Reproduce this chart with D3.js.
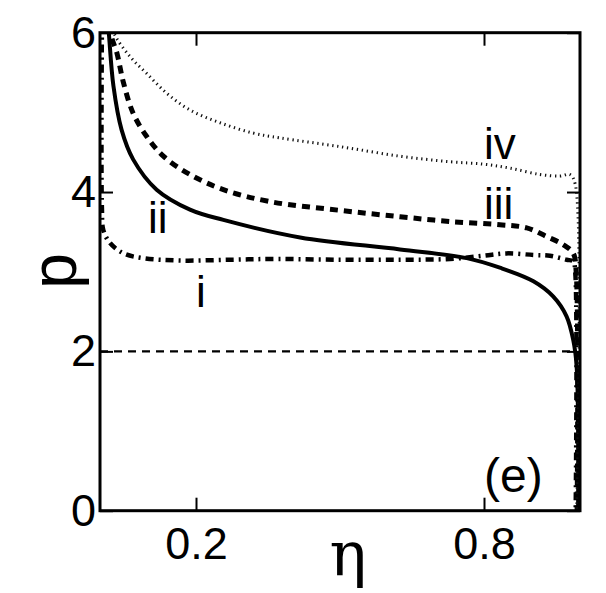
<!DOCTYPE html>
<html>
<head>
<meta charset="utf-8">
<script src="https://cdn.jsdelivr.net/npm/d3@7/dist/d3.min.js"></script>
<style>
  html, body { margin: 0; padding: 0; background: #fff; }
  text { font-family: "Liberation Sans", Arial, Helvetica, sans-serif; }
</style>
</head>
<body>
<div id="chart"></div>
<script>
// --------------- Data ---------------
const etaI = [0.004, 0.004, 0.007, 0.021, 0.049, 0.09, 0.167, 0.271, 0.368, 0.5, 0.625, 0.729, 0.799, 0.847, 0.903, 0.9375, 0.972, 0.986, 0.99, 0.991];
const pI   = [6.1, 3.8, 3.52, 3.36, 3.23, 3.17, 3.14, 3.15, 3.16, 3.15, 3.15, 3.16, 3.20, 3.23, 3.21, 3.20, 3.15, 3.13, 3.0, 0];

const etaII = [0.017, 0.019, 0.028, 0.045, 0.069, 0.118, 0.1875, 0.257, 0.417, 0.625, 0.764, 0.833, 0.903, 0.944, 0.972, 0.986, 0.993, 0.996];
const pII   = [6.1, 5.95, 5.33, 4.78, 4.41, 4.03, 3.78, 3.65, 3.43, 3.28, 3.17, 3.05, 2.88, 2.69, 2.44, 2.14, 1.81, 0];

const etaIII = [0.022, 0.024, 0.035, 0.049, 0.069, 0.097, 0.132, 0.1875, 0.257, 0.354, 0.5, 0.625, 0.729, 0.833, 0.889, 0.931, 0.965, 0.986, 0.992, 0.994];
const pIII   = [6.1, 5.95, 5.75, 5.37, 4.99, 4.70, 4.45, 4.22, 4.03, 3.88, 3.77, 3.69, 3.63, 3.59, 3.55, 3.44, 3.34, 3.23, 3.0, 0];

const etaIV = [0.025, 0.031, 0.0625, 0.097, 0.139, 0.1875, 0.25, 0.319, 0.375, 0.5, 0.625, 0.729, 0.799, 0.854, 0.917, 0.958, 0.979, 0.99, 0.993];
const pIV   = [6.1, 5.97, 5.70, 5.49, 5.24, 5.03, 4.87, 4.74, 4.68, 4.57, 4.45, 4.38, 4.35, 4.30, 4.22, 4.20, 4.22, 4.1, 0];

const REF_P = 2;
const xTicks = [0.2, 0.8];
const yTicks = [0, 2, 4, 6];

const curveLabels = ["i", "ii", "iii", "iv"];
const labelEta = [0.2, 0.1, 0.8, 0.8];
const labelP = [2.56, 3.48, 3.66, 4.41];

// --------------- Layout ---------------
const WIDTH = 606;
const HEIGHT = 593;
const LEFT = 100, RIGHT = 580, TOP = 32.7, BOTTOM = 510.7;
const TICK = 13;

const svg = d3.select("#chart").append("svg")
  .attr("width", WIDTH)
  .attr("height", HEIGHT);

const x = d3.scaleLinear().domain([0, 1]).range([LEFT, RIGHT]);
const y = d3.scaleLinear().domain([0, 6]).range([BOTTOM, TOP]);

svg.append("clipPath").attr("id", "plot-clip")
  .append("rect")
  .attr("x", LEFT).attr("y", TOP)
  .attr("width", RIGHT - LEFT).attr("height", BOTTOM - TOP);

const plot = svg.append("g").attr("clip-path", "url(#plot-clip)");

// reference line p = 2
plot.append("line")
  .attr("x1", x(0)).attr("x2", x(0.99))
  .attr("y1", y(REF_P)).attr("y2", y(REF_P))
  .attr("stroke", "#000")
  .attr("stroke-width", 2.2)
  .attr("stroke-dasharray", "8,6");

const line = d3.line()
  .x((d) => x(d[0]))
  .y((d) => y(d[1]))
  .curve(d3.curveCatmullRom.alpha(0.5));

const series = [
  { eta: etaI, p: pI, width: 4.5, dash: "8,5,2,5" },
  { eta: etaII, p: pII, width: 4, dash: null },
  { eta: etaIII, p: pIII, width: 5, dash: "8,6" },
  { eta: etaIV, p: pIV, width: 3, dash: "1.3,3.7", color: "#111" },
];

series.forEach((s) => {
  plot.append("path")
    .datum(s.eta.map((e, i) => [e, s.p[i]]))
    .attr("d", line)
    .attr("fill", "none")
    .attr("stroke", s.color || "#000")
    .attr("stroke-width", s.width)
    .attr("stroke-dasharray", s.dash);
});

// --------------- Axes ---------------
const axisFont = 45;

const gx = svg.append("g")
  .attr("transform", `translate(0,${BOTTOM})`)
  .call(d3.axisBottom(x).tickValues(xTicks).tickSize(-TICK).tickPadding(16).tickFormat(d3.format(".1f")));

const gy = svg.append("g")
  .attr("transform", `translate(${LEFT},0)`)
  .call(d3.axisLeft(y).tickValues(yTicks).tickSize(-TICK).tickPadding(4).tickFormat(d3.format("d")));

const gxTop = svg.append("g")
  .attr("transform", `translate(0,${TOP})`)
  .call(d3.axisTop(x).tickValues(xTicks).tickSize(-TICK).tickFormat(""));

const gyRight = svg.append("g")
  .attr("transform", `translate(${RIGHT},0)`)
  .call(d3.axisRight(y).tickValues(yTicks).tickSize(-TICK).tickFormat(""));

[gx, gy, gxTop, gyRight].forEach((g) => {
  g.select(".domain").remove();
  g.selectAll(".tick line").attr("stroke", "#000").attr("stroke-width", 2);
  g.selectAll("text")
    .attr("fill", "#000")
    .style("font-family", '"Liberation Sans", Arial, sans-serif')
    .style("font-size", axisFont + "px");
});

// frame
svg.append("rect")
  .attr("x", LEFT).attr("y", TOP)
  .attr("width", RIGHT - LEFT).attr("height", BOTTOM - TOP)
  .attr("fill", "none")
  .attr("stroke", "#000")
  .attr("stroke-width", 3);

// axis titles
svg.append("text")
  .attr("x", 348).attr("y", 575)
  .attr("text-anchor", "middle")
  .style("font-family", '"DejaVu Serif", serif')
  .style("font-size", "62px")
  .text("η");

svg.append("text")
  .attr("transform", `translate(76,271) rotate(-90)`)
  .attr("text-anchor", "middle")
  .style("font-size", "64px")
  .text("p");

// curve labels
svg.append("g").selectAll("text")
  .data(curveLabels)
  .join("text")
  .attr("x", (d, i) => x(labelEta[i]))
  .attr("y", (d, i) => y(labelP[i]))
  .attr("text-anchor", "start")
  .style("font-size", "44px")
  .text((d) => d);

// panel tag
svg.append("text")
  .attr("x", 484).attr("y", 492)
  .style("font-size", "48px")
  .text("(e)");
</script>
</body>
</html>
